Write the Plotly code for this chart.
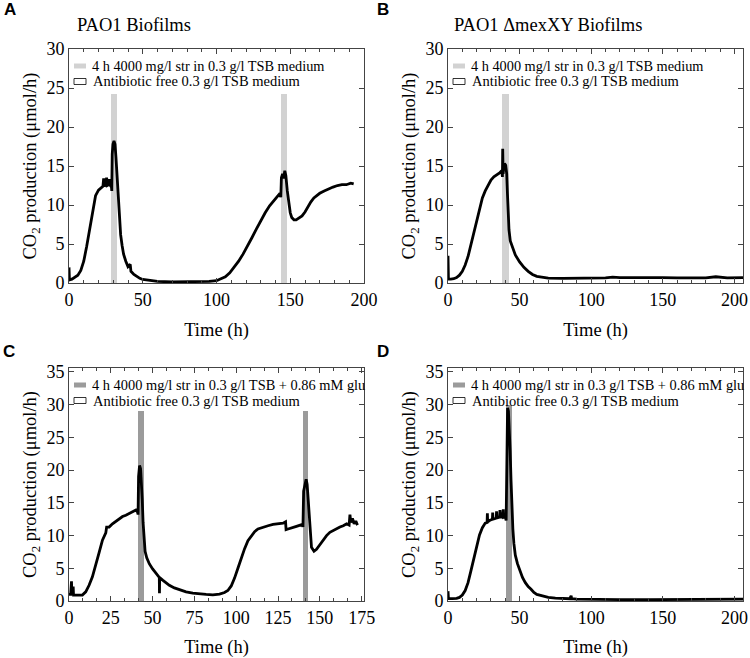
import plotly.graph_objects as go

W, H = 750, 658

# ---------------- data ----------------
# Panel A: PAO1 biofilms, 4 h 4000 mg/l str in 0.3 g/l TSB
t_a = [0, 0.3, 2, 4, 6, 8, 10, 12, 14, 16, 18, 20, 22, 23, 23.5, 24, 25, 25.5, 26, 27, 27.5, 28,
       28.8, 29.0, 29.3, 29.8, 30.5, 31.2, 31.8, 32.5, 33.2, 34, 35, 36, 37, 38.5, 40, 41.5, 42, 44,
       46, 48, 50, 55, 60, 70, 80, 90, 95, 100, 103, 106, 109, 112, 115, 118, 121, 124, 127, 130,
       133, 136, 139, 141, 143, 143.6, 144, 144.8, 145.5, 146.3, 147, 148, 149, 150, 151, 152.5,
       154, 156, 158, 160, 162, 164, 166, 168, 170, 173, 176, 179, 182, 185, 188, 191, 193]
co2_a = [2.0, 0.4, 0.5, 0.7, 1.0, 1.6, 2.8, 4.7, 7.0, 9.4, 11.2, 11.9, 12.2, 12.4, 13.4, 12.4, 12.6,
         13.5, 12.5, 12.6, 13.3, 12.5, 12.3, 11.8, 16.5, 17.8, 18.2, 17.8, 16.2, 14.0, 11.0, 8.3,
         6.2, 4.8, 3.7, 2.8, 2.1, 2.4, 1.5, 1.1, 0.8, 0.6, 0.45, 0.3, 0.2, 0.15, 0.15, 0.15, 0.2,
         0.3, 0.5, 0.8, 1.3, 2.0, 2.8, 3.7, 4.7, 5.8, 6.9, 8.0, 9.0, 9.9, 10.6, 11.1, 11.5, 11.0,
         13.5, 14.0, 13.4, 14.4, 13.8, 11.8, 10.0, 9.0, 8.4, 8.1, 8.1, 8.3, 8.6, 9.1, 9.8, 10.4,
         10.9, 11.2, 11.5, 11.8, 12.1, 12.3, 12.5, 12.6, 12.6, 12.8, 12.7]
treat_a_start = [28.5, 143.5]
treat_a_end = [32.5, 147.5]
treat_a_height = [24.2, 24.2]

# Panel B: PAO1 ΔmexXY biofilms
t_b = [0, 0.3, 2, 4, 6, 8, 10, 12, 14, 16, 18, 20, 22, 24, 26, 28, 30, 32, 34, 36, 37.5, 38,
       38.2, 38.5, 39, 39.5, 40.3, 41, 41.5, 42, 42.6, 43.5, 45, 47, 50, 53, 56, 59, 62, 66, 70,
       80, 90, 100, 110, 115, 120, 130, 140, 150, 160, 170, 180, 187, 190, 195, 206]
co2_b = [3.5, 0.5, 0.5, 0.55, 0.7, 1.0, 1.5, 2.3, 3.4, 4.9, 6.6, 8.2, 9.7, 10.9, 11.8, 12.6, 13.2,
         13.6, 13.8, 14.1, 14.4, 13.6, 17.2, 14.0, 15.0, 15.3, 15.1, 14.0, 11.5, 8.8, 6.8, 5.4,
         4.5, 3.6, 2.7, 2.0, 1.5, 1.1, 0.85, 0.7, 0.62, 0.6, 0.6, 0.6, 0.65, 0.75, 0.7, 0.7, 0.72,
         0.68, 0.66, 0.62, 0.65, 0.8, 0.75, 0.65, 0.7]
treat_b_start = [38.0]
treat_b_end = [42.3]
treat_b_height = [24.2]

# Panel C: PAO1 biofilms, str in 0.3 g/l TSB + 0.86 mM glucose
t_c = [0, 1, 1.5, 1.7, 2.5, 2.7, 4, 6, 8, 10, 12, 14, 16, 18, 20, 22, 22.5, 24, 26, 28, 30, 32,
       34, 36, 38, 40, 41, 41.3, 41.6, 42.2, 42.8, 43.3, 43.8, 44.3, 44.8, 45.5, 46.5, 48, 50,
       52, 54, 54.1, 54.2, 56, 58, 60, 63, 66, 70, 74, 78, 82, 86, 90, 93, 95, 97, 99, 101, 103,
       105, 107, 109, 111, 113, 116, 119, 122, 125, 128, 129.5, 129.8, 131, 133, 136, 139.6,
       139.9, 140.3, 141, 141.8, 142.4, 143, 143.6, 144.2, 145, 146.5, 148, 150, 152, 154, 156,
       158, 160, 162, 164, 166, 167.5, 168, 168.5, 169.5, 170.5, 171.5, 172.5]
co2_c = [1.0, 1.0, 3.0, 0.9, 2.2, 0.9, 0.9, 0.85, 0.9, 1.4, 2.4, 3.7, 5.4, 7.4, 9.3, 10.4, 11.3,
         11.3, 11.8, 12.2, 12.5, 12.9, 13.1, 13.4, 13.7, 13.9, 13.6, 13.2, 19.0, 20.7, 20.2, 18.5,
         15.5, 12.0, 9.2, 7.6, 6.6, 5.7, 4.9, 4.2, 3.6, 1.2, 3.6, 3.2, 2.8, 2.4, 2.0, 1.7, 1.4,
         1.2, 1.05, 1.0, 0.95, 1.05, 1.3, 1.6, 2.3, 3.5, 5.0, 6.6, 8.0, 9.2, 10.0, 10.6, 11.0,
         11.3, 11.5, 11.7, 11.8, 11.9, 12.1, 10.9, 11.0, 11.2, 11.4, 11.7, 11.3, 16.8, 17.6, 18.6,
         17.8, 15.5, 12.5, 10.0, 8.2, 7.6, 7.9, 8.6, 9.3, 10.0, 10.5, 10.8, 11.0, 11.3, 11.5, 11.8,
         11.6, 13.2, 12.0, 12.6, 11.8, 12.2, 11.6]
treat_c_start = [41.0, 139.8]
treat_c_end = [44.6, 143.2]
treat_c_height = [29.0, 29.0]

# Panel D: PAO1 ΔmexXY biofilms, str in 0.3 g/l TSB + 0.86 mM glucose
t_d = [0, 0.3, 3, 6, 8, 10, 12, 14, 16, 18, 20, 22, 24, 26, 27.3, 27.5, 27.7, 29, 31, 31.2, 31.4,
       33, 33.7, 33.9, 34.1, 36, 36.3, 36.5, 38, 38.6, 38.8, 40, 40.6, 41.0, 41.6, 42.2, 42.8,
       43.4, 44, 44.6, 45.3, 46, 47, 48.5, 50, 52, 54, 56, 58, 60, 62, 64, 66, 70, 75, 80, 85, 86,
       86.3, 90, 100, 120, 140, 160, 180, 190, 200, 206]
co2_d = [1.5, 0.35, 0.35, 0.4, 0.55, 0.9, 1.6, 2.8, 4.6, 6.6, 8.5, 10.1, 11.2, 11.9, 12.0, 13.4,
         12.1, 12.3, 12.5, 13.5, 12.5, 12.6, 12.7, 13.7, 12.7, 12.8, 13.9, 12.8, 12.8, 14.0, 12.8,
         12.9, 12.3, 25.0, 29.5, 29.0, 26.5, 23.0, 18.5, 14.5, 11.0, 8.8, 7.0, 5.7, 4.7, 3.6, 2.8,
         2.2, 1.8, 1.3, 1.0, 0.9, 0.8, 0.55, 0.45, 0.4, 0.35, 0.8, 0.35, 0.3, 0.25, 0.22, 0.2,
         0.2, 0.22, 0.25, 0.25, 0.3]
treat_d_start = [40.3]
treat_d_end = [45.0]
treat_d_height = [30.0]

titles = ["PAO1 Biofilms", "PAO1 \u0394mexXY Biofilms", "", ""]
panel_letters = ["A", "B", "C", "D"]
legend_treat = ["4 h 4000 mg/l str in 0.3 g/l TSB medium",
                "4 h 4000 mg/l str in 0.3 g/l TSB medium",
                "4 h 4000 mg/l str in 0.3 g/l TSB + 0.86 mM glu",
                "4 h 4000 mg/l str in 0.3 g/l TSB + 0.86 mM glu"]
legend_free = "Antibiotic free 0.3 g/l TSB medium"
x_label = "Time (h)"
y_label = "CO<sub>2</sub> production (\u03bcmol/h)"

# ---------------- layout geometry (pixels) ----------------
panels = [
    dict(t=t_a, v=co2_a, s=treat_a_start, e=treat_a_end, h=treat_a_height,
         box=(69, 364, 49, 283), xr=[0, 200], yr=[0, 30], xd=50, xm=10, yd=5, col="#d2d2d2", lf=14.3),
    dict(t=t_b, v=co2_b, s=treat_b_start, e=treat_b_end, h=treat_b_height,
         box=(448, 743, 49, 283), xr=[0, 206], yr=[0, 30], xd=50, xm=10, yd=5, col="#d2d2d2", lf=14.3),
    dict(t=t_c, v=co2_c, s=treat_c_start, e=treat_c_end, h=treat_c_height,
         box=(69, 364, 368, 601), xr=[0, 176.4], yr=[0, 35.6], xd=25, xm=25 / 3, yd=5, col="#9b9b9b",
         lf=14.4),
    dict(t=t_d, v=co2_d, s=treat_d_start, e=treat_d_end, h=treat_d_height,
         box=(448, 743, 368, 601), xr=[0, 206], yr=[0, 35.6], xd=50, xm=10, yd=5, col="#9b9b9b", lf=14.4),
]

SERIF = "Liberation Serif"
SANS = "Liberation Sans"


def px(x):
    return x / W


def py(y):
    return 1 - y / H


fig = go.Figure()
shapes = []
annotations = []

for i, p in enumerate(panels):
    n = "" if i == 0 else str(i + 1)
    xa, ya = "x" + n, "y" + n
    widths = [e - s for s, e in zip(p["s"], p["e"])]
    centers = [(s + e) / 2 for s, e in zip(p["s"], p["e"])]
    fig.add_trace(go.Bar(x=centers, y=p["h"], width=widths, marker=dict(color=p["col"], line=dict(width=0)),
                         xaxis=xa, yaxis=ya, showlegend=False, hoverinfo="skip"))
    fig.add_trace(go.Scatter(x=p["t"], y=p["v"], mode="lines", line=dict(color="black", width=2.8),
                             xaxis=xa, yaxis=ya, showlegend=False))
    l, r, tp, bt = p["box"]
    axis_common = dict(showline=True, linecolor="#444", linewidth=1, mirror="allticks", ticks="inside",
                       tickcolor="#444", showgrid=False, zeroline=False, automargin=False,
                       tickfont=dict(family=SERIF, size=18, color="black"))
    fig.layout["xaxis" + n] = dict(axis_common, domain=[px(l), px(r)], range=p["xr"], anchor=ya,
                                   tickmode="linear", tick0=0, dtick=p["xd"], ticklen=5,
                                   ticklabelstandoff=0,
                                   minor=dict(ticks="inside", dtick=p["xm"], tick0=0, ticklen=3,
                                              tickcolor="#444"),
                                   title=dict(text=x_label, font=dict(family=SERIF, size=18.5, color="black"),
                                              standoff=14))
    fig.layout["yaxis" + n] = dict(axis_common, domain=[py(bt), py(tp)], range=p["yr"], anchor=xa,
                                   tickmode="linear", tick0=0, dtick=p["yd"], ticklen=5,
                                   title=dict(text=y_label, font=dict(family=SERIF, size=18.5, color="black"),
                                              standoff=4))
    # legend (drawn)
    r1 = tp + 17
    r2 = tp + 32.5
    shapes.append(dict(type="rect", xref="paper", yref="paper", x0=px(l + 5), x1=px(l + 17),
                       y0=py(r1 + 2.5), y1=py(r1 - 2.5), fillcolor=p["col"], line=dict(width=0)))
    shapes.append(dict(type="rect", xref="paper", yref="paper", x0=px(l + 5), x1=px(l + 17),
                       y0=py(r2 + 3), y1=py(r2 - 3), fillcolor="white", line=dict(color="black", width=0.8)))
    annotations.append(dict(xref="paper", yref="paper", x=px(l + 21), y=py(r1), text=legend_treat[i],
                            xanchor="left", yanchor="middle", showarrow=False,
                            font=dict(family=SERIF, size=p["lf"], color="black")))
    annotations.append(dict(xref="paper", yref="paper", x=px(l + 22), y=py(r2), text=legend_free,
                            xanchor="left", yanchor="middle", showarrow=False,
                            font=dict(family=SERIF, size=14.5, color="black")))

# titles and panel letters
annotations.append(dict(xref="paper", yref="paper", x=px(134), y=py(25), text=titles[0], showarrow=False,
                        xanchor="center", yanchor="middle", font=dict(family=SERIF, size=18.5, color="black")))
annotations.append(dict(xref="paper", yref="paper", x=px(548), y=py(25), text=titles[1], showarrow=False,
                        xanchor="center", yanchor="middle", font=dict(family=SERIF, size=18.5, color="black")))
for letter, (lx, ly) in zip(panel_letters, [(10, 10), (383, 10), (9, 351), (383, 351)]):
    annotations.append(dict(xref="paper", yref="paper", x=px(lx), y=py(ly), text="<b>%s</b>" % letter,
                            showarrow=False, xanchor="center", yanchor="middle",
                            font=dict(family=SANS, size=17, color="black")))

fig.update_layout(template="none", width=W, height=H, margin=dict(l=0, r=0, t=0, b=0),
                  font=dict(family=SERIF, size=18, color="black"),
                  paper_bgcolor="white", plot_bgcolor="white", shapes=shapes, annotations=annotations,
                  bargap=0, showlegend=False)

fig.write_html("out.html", config={"displayModeBar": False},
               post_script="document.body.style.margin='0px';")
